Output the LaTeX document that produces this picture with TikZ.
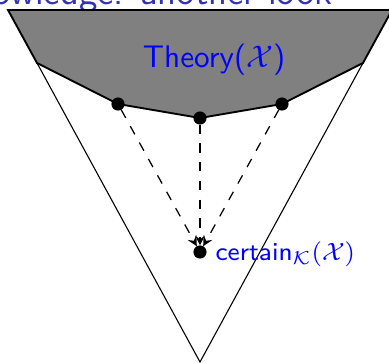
\documentclass[tikz,border=0pt]{standalone}
\usepackage{amsmath}
\usepackage{xcolor}
\usetikzlibrary{arrows}
\definecolor{titleblue}{rgb}{0.2,0.2,0.7}
\tikzstyle{dot} = [draw, circle, fill=black, minimum size=3.8pt, inner sep=0pt]
\tikzstyle{lbl} = [text=blue, font=\sffamily, inner sep=0pt]

\begin{document}
\begin{tikzpicture}[x=0.32pt, y=-0.32pt, >=stealth]
    % Rahmen
    \useasboundingbox (0,0) rectangle (389,363);
    \clip (0,0) rectangle (389,363);

    % Ecken
    \coordinate (tl) at (8,10);
    \coordinate (tr) at (392,10);
    \coordinate (kl) at (37,63);
    \coordinate (kr) at (363,63);
    \coordinate (apex) at (200,362);

    % Titel (abgeschnitten)
    \node [text=titleblue, font=\sffamily\large, inner sep=0pt, anchor=base east] (title) at (333,4) {owledge: another look};

    % Kegel und Theorie
    \draw [line width=0.35pt] (kl) -- (apex) -- (kr);
    \draw [fill=gray, line width=0.6pt] (tl) -- (kl) -- (118,104) -- (200,118) -- (282,104) -- (kr) -- (tr) -- cycle;
    \node [lbl, anchor=base] (theory) at (214,67) {Theory($\mathcal{X}$)};

    % Punkte
    \node [dot] (pl) at (118,104) {};
    \node [dot] (pm) at (200,118) {};
    \node [dot] (pr) at (282,104) {};
    \node [dot] (cert) at (200,252) {};
    \node [lbl, font=\sffamily\fontsize{8.2}{10}\selectfont, anchor=base west] (certlbl) at (215,260) {certain$_{\mathcal{K}}(\mathcal{X})$};

    \draw [->, dashed] (pl) -- (cert);
    \draw [->, dashed] (pm) -- (cert);
    \draw [->, dashed] (pr) -- (cert);
\end{tikzpicture}
\end{document}
